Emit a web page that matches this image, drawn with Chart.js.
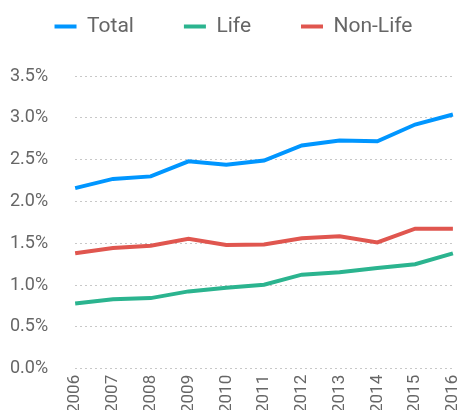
<!DOCTYPE html>
<html>
<head>
<meta charset="utf-8">
<script src="https://cdn.jsdelivr.net/npm/chart.js@4"></script>
<style>
    html, body { margin: 0; padding: 0; background: #fff; }
    #wrap { width: 464px; height: 410px; }
</style>
</head>
<body>
<div id="wrap"><canvas id="ratioChart"></canvas></div>
<script>
// Years on the x axis
const YEARS = ['2006', '2007', '2008', '2009', '2010', '2011', '2012', '2013', '2014', '2015', '2016'];

// Series values (% of GDP)
const TOTAL = [2.16, 2.27, 2.30, 2.48, 2.44, 2.49, 2.67, 2.73, 2.72, 2.92, 3.04];
const LIFE = [0.78, 0.83, 0.845, 0.925, 0.97, 1.005, 1.125, 1.155, 1.205, 1.25, 1.38];
const NON_LIFE = [1.38, 1.445, 1.47, 1.555, 1.48, 1.485, 1.56, 1.585, 1.51, 1.675, 1.675];

const FONT = 'Roboto';
const TEXT_COLOR = '#666666';

function makeLine(label, values, color) {
    return {
        label: label,
        data: values,
        borderColor: color,
        backgroundColor: color,
        borderWidth: 4,
        pointRadius: 0,
        pointHoverRadius: 0,
        tension: 0,
        fill: false
    };
}

// Legend uses a wide label padding for the gaps between items, so pull it up
// and add some room below it before the plot starts
const legendGap = {
    id: 'legendGap',
    beforeInit(chart) {
        const fit = chart.legend.fit;
        chart.legend.fit = function () {
            fit.call(this);
            this.height += 29;
        };
    }
};

new Chart(document.getElementById('ratioChart'), {
    type: 'line',
    data: {
        labels: YEARS,
        datasets: [
            makeLine('Total', TOTAL, '#0096ff'),
            makeLine('Life', LIFE, '#2bb48f'),
            makeLine('Non-Life', NON_LIFE, '#e0564f')
        ]
    },
    plugins: [legendGap],
    options: {
        responsive: true,
        maintainAspectRatio: false,
        animation: false,
        layout: { padding: { left: -17, right: -20, top: -34, bottom: -9 } },
        plugins: {
            tooltip: { enabled: false },
            legend: {
                position: 'top',
                labels: {
                    usePointStyle: true,
                    pointStyle: 'line',
                    pointStyleWidth: 22,
                    padding: 50,
                    color: TEXT_COLOR,
                    font: { family: FONT, size: 21 }
                }
            }
        },
        scales: {
            x: {
                offset: false,
                grid: { display: false, drawTicks: false },
                border: { display: false },
                ticks: {
                    color: TEXT_COLOR,
                    // small lineHeight keeps the last rotated label from eating the right margin
                    font: { family: FONT, size: 17, lineHeight: 0.3 },
                    maxRotation: 90,
                    minRotation: 90,
                    padding: 6
                }
            },
            y: {
                min: 0,
                max: 3.5,
                grid: { color: '#c8c8c8', drawTicks: false, lineWidth: 1 },
                border: { display: false, dash: [2, 3] },
                ticks: {
                    stepSize: 0.5,
                    padding: 27,
                    color: TEXT_COLOR,
                    font: { family: FONT, size: 18 },
                    callback: v => v.toFixed(1) + '%'
                }
            }
        }
    }
});
</script>
</body>
</html>
